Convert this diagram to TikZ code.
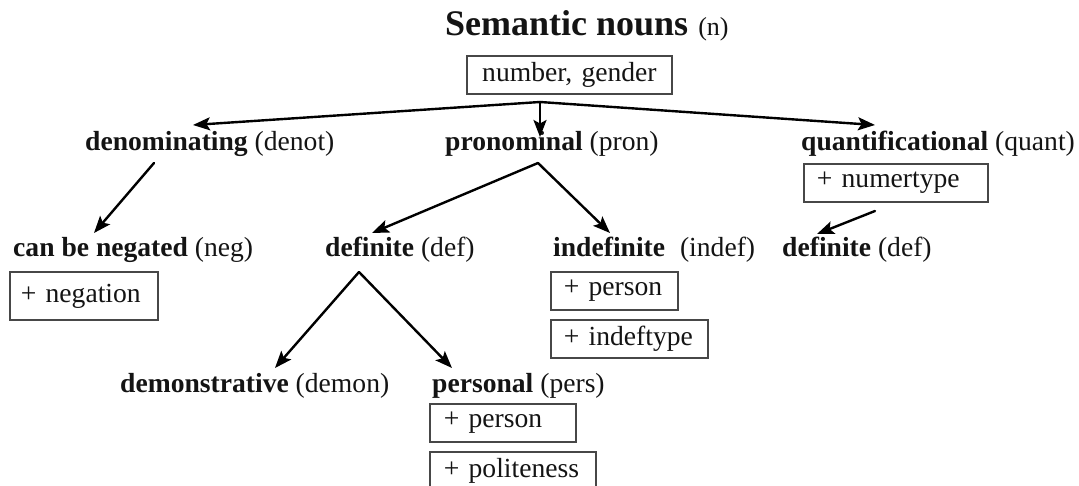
\documentclass[tikz,border=0pt]{standalone}
\usepackage{fontspec}
\setmainfont{Liberation Serif}
\usetikzlibrary{arrows.meta}
\begin{document}
\begin{tikzpicture}[x=1pt,y=-1pt,
  lbl/.style={anchor=base west, inner sep=0pt, font=\fontsize{27.6}{30}\selectfont, text=black!92},
  fbox/.style={draw=black!72, line width=1.8pt, anchor=north west, inner xsep=14pt, inner ysep=0pt, align=left, font=\fontsize{27.6}{30}\selectfont, text=black!92},
  conn/.style={line width=2.4pt, line cap=round, -{Stealth[length=17pt,width=13pt,inset=3.5pt]}}]
\useasboundingbox[fill=white] (0,0) rectangle (1079,486);

% title
\node[anchor=base west, inner sep=0pt, font=\fontsize{36}{40}\selectfont, text=black!92] (title) at (445,35.7)
  {\textbf{Semantic nouns}\hspace{1pt} \fontsize{26}{28}\selectfont(n)};
\node[fbox, align=center, text width=177pt, minimum height=38pt] (numgen) at (466,55) {number, gender};

% level 1
\node[lbl] (denot) at (85,151) {\textbf{denominating} (denot)};
\node[lbl] (pron) at (445,151) {\textbf{pronominal} (pron)};
\node[lbl] (quant) at (801,151) {\textbf{quantificational} (quant)};
\node[fbox, inner xsep=13pt, text width=158pt, minimum height=38pt] (numertype) at (803,163) {+ numertype};

% level 2
\node[lbl] (neg) at (13,257) {\textbf{can be negated} (neg)};
\node[fbox, inner xsep=11pt, text width=126pt, minimum height=48pt] (negation) at (9,271) {+ negation};
\node[lbl] (def) at (325,257) {\textbf{definite} (def)};
\node[lbl] (indef) at (553,257) {\textbf{indefinite}\hspace{8pt} (indef)};
\node[fbox, inner xsep=13pt, text width=101pt, minimum height=38pt] (iperson) at (550,271) {+ person};
\node[fbox, inner xsep=13pt, text width=131pt, minimum height=38pt] (indeftype) at (550,319) {+ indeftype};
\node[lbl] (qdef) at (782,257) {\textbf{definite} (def)};

% level 3
\node[lbl] (demon) at (120,392) {\textbf{demonstrative} (demon)};
\node[lbl] (pers) at (432,392) {\textbf{personal} (pers)};
\node[fbox, text width=118pt, minimum height=38pt] (pperson) at (429,403) {+ person};
\node[fbox, text width=138pt, minimum height=38pt] (polite) at (429,451) {+ politeness};

% connector points
\coordinate (topA) at (540,102);
\coordinate (denotTip) at (193,125);
\coordinate (pronTip) at (540,137);
\coordinate (quantTip) at (875,125);
\coordinate (denotA) at (154,163);
\coordinate (negTip) at (94,233);
\coordinate (pronA) at (538,163);
\coordinate (defTip) at (372,233);
\coordinate (indefTip) at (610,233);
\coordinate (quantA) at (875,211);
\coordinate (qdefTip) at (817,234);
\coordinate (defA) at (359,272);
\coordinate (demonTip) at (275,368);
\coordinate (persTip) at (452,368);

\draw[conn] (topA) -- (denotTip);
\draw[conn] (topA) -- (pronTip);
\draw[conn] (topA) -- (quantTip);
\draw[conn] (denotA) -- (negTip);
\draw[conn] (pronA) -- (defTip);
\draw[conn] (pronA) -- (indefTip);
\draw[conn] (quantA) -- (qdefTip);
\draw[conn] (defA) -- (demonTip);
\draw[conn] (defA) -- (persTip);
\end{tikzpicture}
\end{document}
